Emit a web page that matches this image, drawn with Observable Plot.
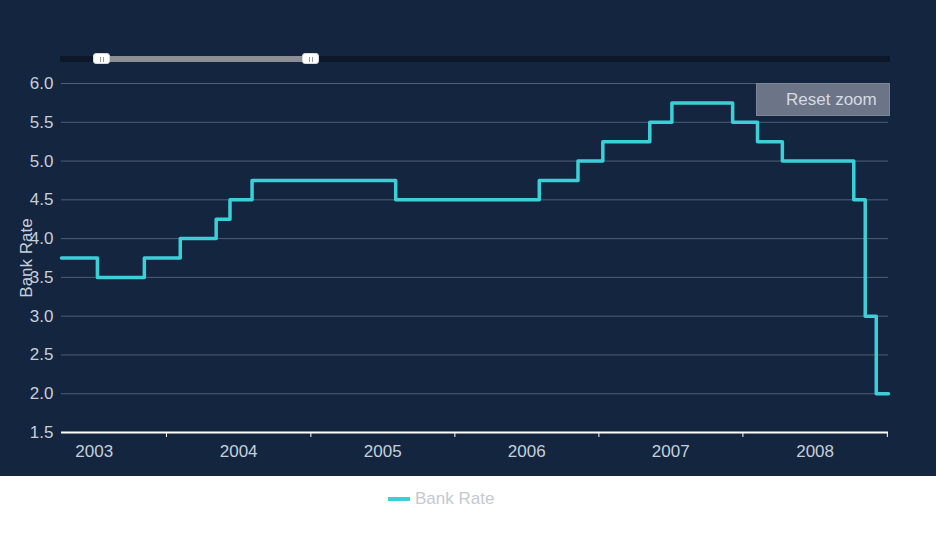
<!DOCTYPE html>
<html>
<head>
<meta charset="utf-8">
<script src="https://cdn.jsdelivr.net/npm/d3@7"></script>
<script src="https://cdn.jsdelivr.net/npm/@observablehq/plot@0.6"></script>
<style>
  html, body { margin: 0; padding: 0; background: #ffffff; }
  body { width: 936px; height: 538px; overflow: hidden; font-family: "Liberation Sans", Arial, sans-serif; }
  #wrap { position: relative; width: 936px; height: 476px; background: #14263f; }
  #track { position: absolute; left: 60px; top: 56px; width: 830px; height: 6px; background: #0c1829; }
  #sel { position: absolute; left: 102px; top: 56px; width: 208px; height: 6px; background: #8c8f96; }
  .handle { position: absolute; top: 53px; width: 17px; height: 11px; background: #ffffff; border-radius: 3px; box-sizing: border-box; border: 1px solid #d8d8d8; }
  .handle::before, .handle::after { content: ""; position: absolute; top: 3px; width: 1px; height: 5px; background: #999; }
  .handle::before { left: 6px; } .handle::after { left: 9px; }
  #reset { position: absolute; left: 756px; top: 83px; width: 134px; height: 33px; box-sizing: border-box; background: #6b7587; border: 1px solid #7d8698; color: #d6dae1; font-size: 17px; line-height: 31px; padding-left: 29px; }
  #legend { position: relative; height: 62px; }
  #legend .sw { position: absolute; left: 388px; top: 21px; width: 22px; height: 4px; background: #3ccfd7; }
  #legend .tx { position: absolute; left: 415px; top: 13px; font-size: 17px; color: #c5c9d0; }
</style>
</head>
<body>
<div id="wrap"></div>
<div id="legend"><div class="sw"></div><div class="tx">Bank Rate</div></div>
<script>
// Bank Rate change dates and values (step function)
const dates = ["2003-04-10","2003-07-10","2003-11-06","2004-02-05","2004-05-06","2004-06-10","2004-08-05","2005-08-04","2006-08-03","2006-11-09","2007-01-11","2007-05-10","2007-07-05","2007-12-06","2008-02-07","2008-04-10","2008-10-08","2008-11-06","2008-12-04","2009-01-04"];
const rates = [3.75,3.5,3.75,4.0,4.25,4.5,4.75,4.5,4.75,5.0,5.25,5.5,5.75,5.5,5.25,5.0,4.5,3.0,2.0,2.0];
const yTicks = [1.5,2.0,2.5,3.0,3.5,4.0,4.5,5.0,5.5,6.0];
const yearBoundaries = ["2004-01-01","2005-01-01","2006-01-01","2007-01-01","2008-01-01","2009-01-01"];
const yearLabels = ["2003","2004","2005","2006","2007","2008"];
const seriesName = "Bank Rate";

const data = dates.map((d, i) => ({date: new Date(d + "T00:00:00Z"), rate: rates[i]}));
const boundaryDates = yearBoundaries.map(d => new Date(d + "T00:00:00Z"));
const labelDates = yearLabels.map(y => new Date(y + "-07-02T00:00:00Z"));

const chart = Plot.plot({
  width: 936,
  height: 476,
  marginLeft: 61,
  marginRight: 48,
  marginTop: 83,
  marginBottom: 44,
  style: {background: "#14263f", fontFamily: "'Liberation Sans', Arial, sans-serif", fontSize: "17px", color: "#c7cfdb"},
  x: {type: "utc", domain: [data[0].date, data[data.length - 1].date]},
  y: {domain: [1.5, 6.0]},
  marks: [
    Plot.gridY(yTicks.filter(t => t > 1.5), {stroke: "#4e5e75", strokeOpacity: 1}),
    Plot.axisY(yTicks, {tickSize: 0, tickPadding: 8, tickFormat: d3.format(".1f"), label: null, fill: "#c7cfdb"}),
    Plot.axisX(boundaryDates, {tickSize: 5, tickFormat: () => "", stroke: "#ffffff", label: null}),
    Plot.axisX(labelDates, {tickSize: 0, tickPadding: 12, tickFormat: d3.utcFormat("%Y"), label: null, fill: "#c7cfdb"}),
    Plot.ruleY([1.5], {stroke: "#ffffff", strokeWidth: 2}),
    Plot.line(data, {x: "date", y: "rate", curve: "step-after", stroke: "#3ccfd7", strokeWidth: 3.5}),
    Plot.text([seriesName], {frameAnchor: "left", textAnchor: "middle", rotate: -90, dx: -35, fill: "#c7cfdb", fontSize: 17})
  ]
});

const wrap = document.getElementById("wrap");
wrap.appendChild(chart);
wrap.insertAdjacentHTML("beforeend",
  '<div id="track"></div><div id="sel"></div><div class="handle" style="left:93px"></div><div class="handle" style="left:302px"></div><div id="reset">Reset zoom</div>');
</script>
</body>
</html>
